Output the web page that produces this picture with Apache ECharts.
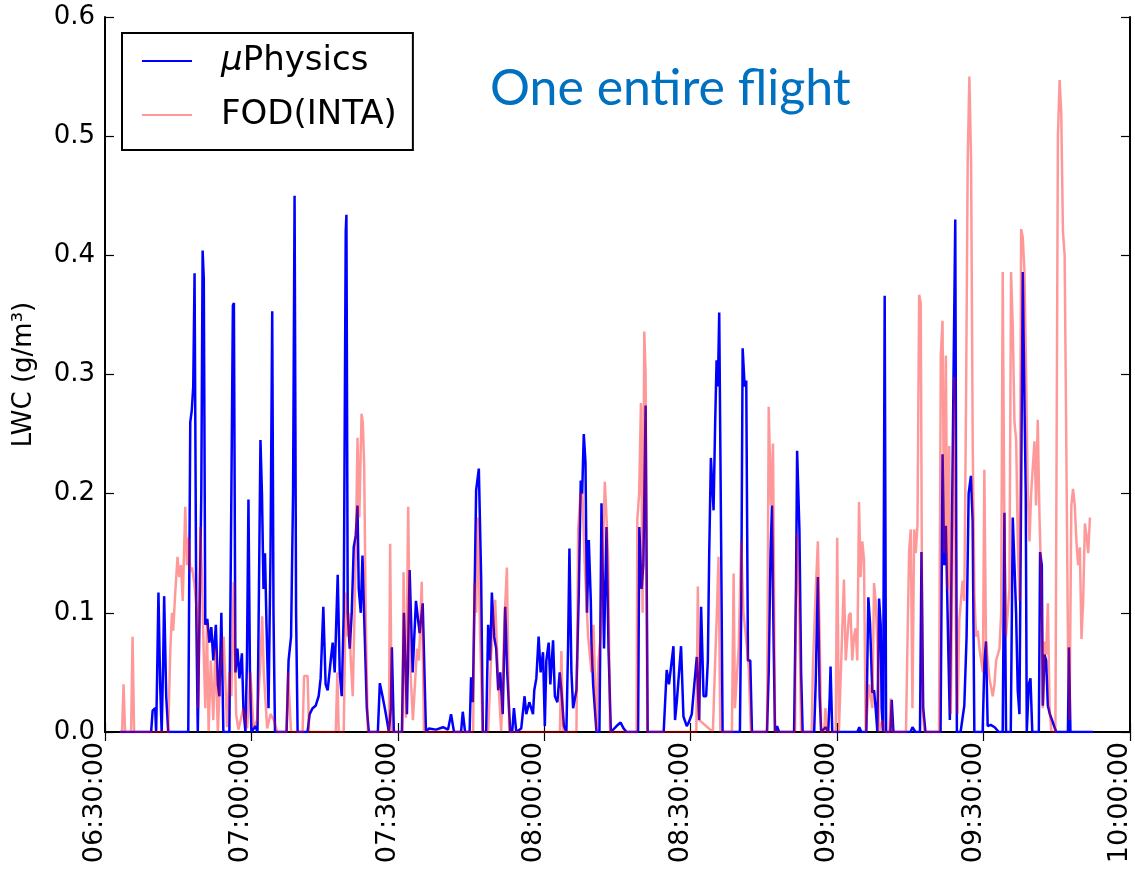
<!DOCTYPE html>
<html>
<head>
<meta charset="utf-8">
<title>LWC – one entire flight</title>
<script src="https://cdn.jsdelivr.net/npm/echarts@6/dist/echarts.min.js"></script>
<style>
  html, body { margin: 0; padding: 0; background: #fff; }
  #chart { width: 1135px; height: 875px; }
</style>
</head>
<body>
<div id="chart"></div>
<script>
// Flight start reference: all sample times are minutes after 06:30:00
const START_MINUTE = 6 * 60 + 30;
const END_MINUTE = 10 * 60;
const yTicks = [0, 0.1, 0.2, 0.3, 0.4, 0.5, 0.6];

// µPhysics probe, [minutes after 06:30, LWC g/m3]
const microPhysics = [
  [3.08,0],[9.45,0],[9.76,0.018],[10.27,0.02],[10.48,0],[10.69,0.05],[10.95,0.117],[11.30,0.04],[11.61,0],
  [11.92,0.06],[12.12,0.114],[12.54,0.03],[12.95,0],[17.06,0],[17.47,0.26],[17.78,0.27],[18.08,0.29],
  [18.35,0.385],[18.70,0.1],[19.01,0],[19.32,0],[19.73,0.2],[20.0,0.404],[20.24,0.38],[20.55,0.09],
  [20.96,0.095],[21.37,0.075],[21.78,0.088],[22.19,0.06],[22.71,0.09],[23.12,0.04],[23.43,0.03],[23.84,0.1],
  [24.25,0],[25.48,0],[25.89,0.2],[26.2,0.358],[26.41,0.36],[26.72,0.05],[27.13,0.07],[27.54,0.045],
  [28.05,0.066],[28.36,0.02],[28.77,0],[29.08,0.06],[29.39,0.195],[29.70,0.05],[30.0,0],[30.83,0.005],
  [31.24,0],[31.54,0.12],[31.85,0.245],[32.16,0.2],[32.47,0.12],[32.78,0.15],[33.09,0.09],[33.50,0.02],
  [33.91,0.15],[34.26,0.353],[34.52,0.1],[34.83,0],[37.20,0],[37.61,0.06],[38.12,0.08],[38.53,0.2],
  [38.84,0.45],[39.15,0.1],[39.46,0],[41.51,0],[41.92,0.015],[42.54,0.02],[43.15,0.022],[43.77,0.03],
  [44.18,0.045],[44.73,0.105],[45.2,0.04],[45.62,0.035],[46.24,0.06],[46.65,0.075],[47.06,0.05],
  [47.68,0.132],[48.09,0.05],[48.5,0.03],[48.91,0.1],[49.32,0.42],[49.46,0.434],[49.73,0.1],[50.14,0.07],
  [50.55,0.1],[50.96,0.155],[51.38,0.165],[51.73,0.19],[51.99,0.12],[52.4,0.1],[52.75,0.148],[53.22,0.08],
  [53.64,0.02],[54.05,0],[55.9,0],[56.31,0.041],[56.86,0.03],[57.33,0.02],[57.75,0.01],[58.16,0],
  [58.57,0.02],[58.77,0.071],[59.18,0],[60.83,0],[61.24,0.1],[61.86,0.015],[62.41,0.136],[63.03,0.05],
  [63.71,0.11],[64.12,0.095],[64.47,0.083],[65.09,0.108],[65.76,0],[66.38,0.003],[67.82,0.002],
  [69.25,0.004],[70.28,0.002],[70.9,0.015],[71.51,0],[72.95,0],[73.3,0.017],[73.77,0],[74.7,0],
  [75.0,0.046],[75.36,0.025],[75.73,0.12],[76.04,0.203],[76.59,0.221],[77.06,0.13],[77.41,0],[78.09,0],
  [78.5,0.09],[78.91,0.06],[79.26,0.117],[79.73,0.08],[80.15,0.07],[80.56,0.035],[80.97,0.05],
  [81.48,0.015],[81.99,0.105],[82.41,0.05],[83.02,0],[83.43,0],[83.78,0.02],[84.26,0],[85.28,0.003],
  [85.96,0.03],[86.31,0.015],[86.93,0.025],[87.69,0.015],[87.95,0.035],[88.37,0.045],[88.84,0.08],
  [89.25,0.05],[89.74,0.067],[90.11,0.005],[90.42,0.06],[90.9,0.075],[91.24,0.04],[91.8,0.077],
  [92.17,0.03],[92.68,0.025],[93.16,0.05],[93.5,0.035],[94.02,0.005],[94.53,0],[94.88,0.073],
  [95.15,0.154],[95.56,0.05],[95.91,0.02],[96.59,0.035],[97.06,0.115],[97.47,0.211],[97.76,0.2],
  [98.09,0.25],[98.44,0.226],[98.75,0.1],[99.12,0.161],[99.53,0.11],[99.67,0.075],[100.01,0.04],
  [100.69,0],[101.3,0],[101.72,0.192],[102.24,0.07],[102.75,0.172],[103.16,0.07],[103.64,0],
  [104.81,0.005],[105.63,0.008],[106.24,0.003],[106.86,0],[109.22,0],[109.47,0.172],[109.94,0.12],
  [110.29,0.14],[110.76,0.274],[111.18,0],[114.46,0],[115.08,0.052],[115.55,0.04],[116.46,0.072],
  [116.79,0.01],[117.14,0.025],[117.61,0.05],[118.02,0.072],[118.51,0.013],[119.19,0.005],[119.6,0.008],
  [120.22,0.015],[120.63,0.035],[121.25,0.063],[121.72,0.01],[122.13,0.105],[122.63,0.03],[123.16,0.03],
  [123.51,0.06],[123.78,0.147],[124.13,0.23],[124.68,0.186],[125.01,0.26],[125.3,0.312],[125.57,0.29],
  [125.84,0.352],[126.25,0.15],[126.53,0],[130.08,0],[130.35,0.106],[130.64,0.322],[131.05,0.29],
  [131.38,0.295],[131.73,0.06],[132.2,0.06],[132.55,0],[135.63,0],[135.98,0.05],[136.35,0.15],
  [136.66,0.19],[136.97,0.08],[137.27,0],[137.68,0.005],[138.1,0],[141.18,0],[141.59,0.13],[141.8,0.236],
  [142.27,0.17],[142.62,0.05],[142.93,0],[145.29,0],[145.6,0.04],[146.05,0.13],[146.42,0.03],[146.73,0],
  [147.62,0.004],[148.17,0],[148.48,0.03],[148.65,0.055],[149.0,0],[154.13,0],[154.54,0.004],[154.95,0],
  [155.98,0],[156.39,0.113],[156.74,0.091],[157.21,0.033],[157.56,0.035],[157.89,0.02],[158.24,0],
  [158.59,0.112],[158.92,0.09],[159.12,0.02],[159.41,0],[159.74,0.366],[160.03,0],[160.91,0],
  [161.18,0.027],[161.53,0],[165.02,0],[165.43,0.004],[166.05,0],[166.97,0],[167.28,0.151],[167.63,0.02],
  [168.1,0],[171.19,0],[171.6,0.233],[171.94,0.14],[172.27,0.173],[172.82,0.06],[173.09,0.01],
  [173.5,0.164],[173.85,0.3],[174.2,0.43],[174.53,0],[175.29,0],[176.05,0.022],[176.52,0.08],[176.94,0.2],
  [177.41,0.215],[177.76,0.177],[178.11,0],[179.81,0],[180.16,0.058],[180.49,0.076],[180.84,0.005],
  [181.46,0.006],[182.28,0.004],[183.1,0],[183.92,0],[184.27,0.184],[184.6,0],[185.57,0],[185.98,0.18],
  [186.33,0.14],[186.66,0.1],[187.0,0.035],[187.35,0.015],[187.68,0.015],[188.03,0.386],[188.38,0.386],
  [188.64,0.2],[188.85,0],[189.26,0.04],[189.61,0.045],[189.98,0],[191.32,0],[191.58,0.151],[191.93,0.14],
  [192.14,0.022],[192.49,0.065],[192.82,0.06],[193.17,0.022],[193.58,0.015],[194.2,0.008],[194.88,0],
  [197.28,0],[197.49,0.071],[197.8,0],[202.42,0]
];

// FOD (INTA) probe, [minutes after 06:30, LWC g/m3]
const fodInta = [
  [3.08,0],[3.49,0],[3.8,0.04],[4.11,0],[5.34,0],[5.65,0.08],[5.96,0],[12.95,0],[13.36,0.066],[13.71,0.1],
  [13.97,0.085],[14.39,0.117],[14.86,0.147],[15.21,0.13],[15.56,0.14],[15.93,0.11],[16.44,0.189],
  [16.79,0.14],[17.12,0.163],[17.47,0.135],[17.82,0.138],[18.29,0.125],[18.85,0.1],[19.11,0.02],
  [19.52,0.172],[19.87,0.13],[20.2,0.07],[20.55,0.02],[20.9,0.09],[21.23,0],[21.68,0.06],[22.19,0.01],
  [22.61,0.07],[23.12,0],[23.63,0.05],[24.31,0.08],[25.01,0.004],[25.48,0.05],[25.89,0.03],[26.37,0.126],
  [26.86,0.015],[27.33,0.002],[28.36,0.02],[29.12,0.003],[29.8,0.05],[30.41,0.004],[31.17,0.01],
  [31.85,0.06],[32.2,0.097],[32.53,0.05],[33.23,0.003],[33.91,0.015],[34.59,0.01],[35.28,0],[37.2,0],
  [37.5,0.05],[37.81,0.05],[38.12,0],[40.48,0],[40.79,0.047],[41.51,0.047],[41.82,0],[47.27,0],
  [47.61,0.05],[47.88,0],[48.91,0],[49.32,0.117],[49.73,0.08],[50.04,0.1],[50.35,0.06],[50.76,0.03],
  [51.38,0.15],[51.73,0.247],[52.1,0.18],[52.56,0.267],[52.82,0.26],[53.09,0.225],[53.44,0.09],[53.85,0],
  [58.16,0],[58.42,0.158],[58.77,0],[60.93,0],[61.17,0.134],[61.65,0.012],[62.12,0.189],[62.47,0.06],
  [63.08,0.01],[63.92,0.07],[64.33,0.06],[64.89,0.126],[65.36,0],[75.43,0],[75.7,0.125],[76.04,0.1],
  [76.39,0.18],[76.86,0.08],[77.37,0],[78.5,0],[79.12,0.065],[79.94,0.111],[80.49,0.05],[81.17,0],
  [81.85,0.094],[82.34,0.138],[82.82,0],[93.2,0],[93.5,0.068],[93.85,0],[96.59,0],[96.94,0.17],
  [97.41,0.2],[97.82,0.2],[98.29,0.14],[98.98,0.08],[99.67,0.05],[100.08,0.09],[100.69,0],[101.1,0.06],
  [101.72,0.09],[102.07,0.16],[102.4,0.21],[102.75,0.18],[103.1,0.144],[103.47,0],[108.91,0],
  [109.06,0.178],[109.43,0.2],[109.8,0.276],[110.14,0.1],[110.49,0.336],[110.76,0.3],[111.11,0],
  [121.15,0],[121.46,0.122],[121.77,0.01],[124.54,0],[125.01,0.06],[125.36,0.1],[125.7,0.147],[126.07,0],
  [128.44,0],[128.79,0.133],[129.06,0.02],[129.82,0.07],[130.35,0.16],[130.8,0.1],[131.31,0.08],
  [131.86,0.055],[132.33,0],[135.63,0],[135.98,0.273],[136.45,0.19],[136.86,0.242],[137.27,0],
  [141.39,0],[141.45,0.06],[141.8,0.167],[142.21,0.11],[142.62,0],[144.78,0],[145.03,0.055],
  [145.56,0.113],[146.05,0.16],[146.42,0.08],[146.73,0],[147.34,0],[147.61,0.02],[147.96,0],[149.7,0],
  [150.01,0.163],[150.36,0],[150.84,0.06],[151.39,0.128],[151.76,0.06],[152.42,0.098],[152.75,0.1],
  [153.1,0.06],[153.45,0.08],[153.78,0.087],[154.13,0.06],[154.48,0.193],[154.81,0.13],[155.15,0.16],
  [155.5,0.145],[155.85,0],[156.53,0.04],[157.21,0.02],[157.56,0.125],[157.89,0.11],[158.24,0.075],
  [158.59,0],[159.27,0.01],[159.68,0],[160.71,0],[160.98,0.028],[161.33,0],[164.11,0],[164.4,0.073],
  [164.75,0.152],[165.08,0.17],[165.43,0.02],[165.78,0.17],[166.11,0.15],[166.46,0.174],[166.8,0.367],
  [167.13,0.36],[167.48,0.02],[167.89,0],[170.87,0],[171.24,0.316],[171.59,0.345],[171.94,0.15],
  [172.27,0.316],[172.62,0.12],[172.97,0.24],[173.3,0.015],[173.65,0.16],[174.0,0.298],[174.33,0.085],
  [174.68,0.015],[175.03,0.094],[175.36,0.094],[175.71,0.127],[176.05,0.11],[176.4,0.273],[176.75,0.48],
  [177.09,0.55],[177.44,0.48],[177.78,0.24],[178.12,0.115],[178.47,0.08],[178.82,0.085],[179.16,0.07],
  [179.51,0.06],[179.86,0.05],[180.16,0.22],[180.49,0.076],[181.2,0.045],[181.88,0.03],[182.23,0.04],
  [182.57,0.06],[183.26,0.07],[183.6,0.1],[183.92,0.386],[184.27,0.17],[184.6,0.08],[185.3,0.12],
  [185.63,0.386],[185.98,0.34],[186.33,0.26],[186.68,0.245],[187.0,0.16],[187.37,0.11],[187.7,0.422],
  [188.03,0.415],[188.38,0.386],[188.72,0.3],[189.06,0.2],[189.41,0.16],[189.74,0.2],[190.09,0.2],
  [190.43,0.244],[190.76,0.19],[191.1,0.262],[191.46,0.18],[191.8,0.13],[192.15,0.02],[192.49,0.076],
  [192.83,0.065],[193.17,0.108],[193.52,0.02],[193.89,0],[194.72,0],[195.23,0.5],[195.58,0.547],
  [195.91,0.52],[196.26,0.42],[196.61,0.4],[196.95,0.24],[197.3,0.07],[197.61,0.01],[197.98,0.19],
  [198.33,0.204],[198.68,0.19],[199.02,0.16],[199.37,0.14],[199.72,0.155],[200.06,0.078],[200.4,0.11],
  [200.76,0.175],[201.09,0.165],[201.44,0.15],[201.79,0.18]
];

const toClock = (m) => {
  const total = Math.round(m * 60);
  const h = Math.floor(total / 3600), mi = Math.floor((total % 3600) / 60), s = total % 60;
  const p = (v) => String(v).padStart(2, '0');
  return p(h) + ':' + p(mi) + ':' + p(s);
};
const onClock = (rows) => rows.map(([m, v]) => [START_MINUTE + m, v]);

const FONT = 'DejaVu Sans';
const LINE_ICON = 'path://M0,0 L60,0 L60,2.4 L0,2.4 Z';
const chart = echarts.init(document.getElementById('chart'), null, { renderer: 'canvas' });

const frameAxis = {
  axisLine: { show: true, lineStyle: { color: '#000', width: 2 } },
  axisTick: { show: true, inside: true, length: 9, lineStyle: { color: '#000', width: 1.2 } },
  splitLine: { show: false }
};

chart.setOption({
  animation: false,
  backgroundColor: '#fff',
  title: {
    text: 'One entire flight',
    left: 490, top: 64, padding: 0,
    textStyle: { color: '#0070C0', fontFamily: 'Lato', fontWeight: 'normal', fontSize: 50 }
  },
  legend: {
    orient: 'vertical',
    left: 122, top: 33,
    padding: [8, 16, 15, 20],
    borderColor: '#000', borderWidth: 2, borderRadius: 0,
    backgroundColor: '#fff',
    itemWidth: 50, itemHeight: 14, itemGap: 14,
    symbolKeepAspect: true,
    data: [
      { name: 'μPhysics', icon: LINE_ICON },
      { name: 'FOD(INTA)', icon: LINE_ICON }
    ],
    formatter: (name) => name === 'μPhysics' ? '{it|μ}Physics' : name,
    textStyle: {
      fontFamily: FONT, fontSize: 34, color: '#000', lineHeight: 40, padding: [0, 0, 0, 24],
      rich: { it: { fontFamily: FONT, fontSize: 34, fontStyle: 'italic', color: '#000' } }
    }
  },
  grid: { left: 105, right: 5, top: 17, bottom: 143, containLabel: false, outerBoundsMode: 'none' },
  xAxis: [
    Object.assign({
      type: 'value', min: START_MINUTE, max: END_MINUTE, interval: 30,
      axisLabel: {
        rotate: 90, margin: 10, color: '#000', fontFamily: FONT, fontSize: 27,
        verticalAlign: 'bottom', lineHeight: 20,
        formatter: (v) => toClock(v)
      }
    }, frameAxis),
    Object.assign({
      type: 'value', position: 'top', min: START_MINUTE, max: END_MINUTE, interval: 30,
      axisLabel: { show: false }
    }, frameAxis)
  ],
  yAxis: [
    Object.assign({
      type: 'value', min: yTicks[0], max: yTicks[yTicks.length - 1], interval: 0.1,
      name: 'LWC (g/m³)', nameLocation: 'middle', nameRotate: 90, nameGap: 68,
      nameTextStyle: { color: '#000', fontFamily: FONT, fontSize: 26 },
      axisLabel: { color: '#000', fontFamily: FONT, fontSize: 26, margin: 10, formatter: (v) => v.toFixed(1) }
    }, frameAxis),
    Object.assign({
      type: 'value', position: 'right', min: yTicks[0], max: yTicks[yTicks.length - 1], interval: 0.1,
      axisLabel: { show: false }
    }, frameAxis)
  ],
  series: [
    {
      name: 'μPhysics', type: 'line', symbol: 'none', data: onClock(microPhysics),
      lineStyle: { color: '#0000ff', width: 2.5 }, itemStyle: { color: '#0000ff' }, z: 2
    },
    {
      name: 'FOD(INTA)', type: 'line', symbol: 'none', data: onClock(fodInta),
      lineStyle: { color: 'rgba(255,0,0,0.4)', width: 2.5 }, itemStyle: { color: 'rgba(255,0,0,0.4)' }, z: 3
    }
  ]
});
</script>
</body>
</html>
